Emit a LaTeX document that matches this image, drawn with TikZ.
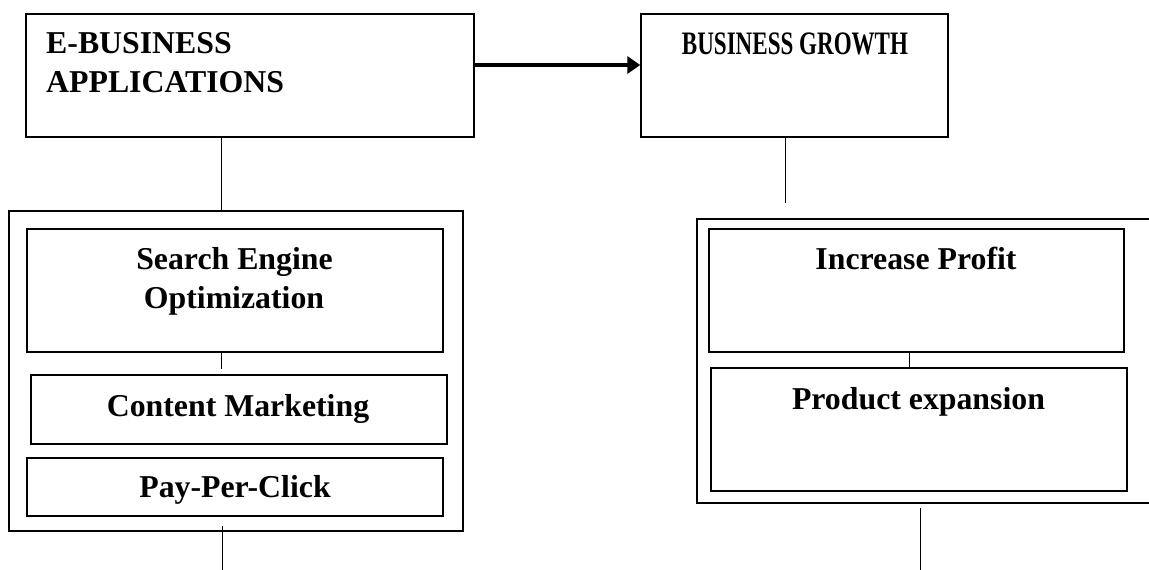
\documentclass[tikz,border=0pt]{standalone}
\usepackage{fontspec}
\setmainfont{Liberation Serif}
\usetikzlibrary{arrows.meta}
\begin{document}
\begin{tikzpicture}[x=1pt,y=-1pt,
  box/.style={draw, line width=1.4pt, inner sep=0pt},
  conn/.style={line width=1pt},
  thickarrow/.style={line width=3.2pt, -{Triangle[length=13pt,width=17pt]}},
  lbl/.style={font=\bfseries\fontsize{31.8}{39}\selectfont, anchor=base, inner sep=0pt}]
\useasboundingbox (0,0) rectangle (1149,570);
\clip (0,0) rectangle (1149,570);
% boxes
\node[box, minimum width=448pt, minimum height=123pt] (eb) at (250,75.5) {};
\node[box, minimum width=307pt, minimum height=123pt] (bg) at (794.5,75.5) {};
\node[box, minimum width=454pt, minimum height=320pt] (louter) at (236,371) {};
\node[box, minimum width=416pt, minimum height=123pt] (seo) at (235,290.5) {};
\node[box, minimum width=416pt, minimum height=69pt] (cm) at (239,409.5) {};
\node[box, minimum width=416pt, minimum height=58pt] (ppc) at (235,487) {};
\node[box, minimum width=503pt, minimum height=284pt] (router) at (948.5,361) {};
\node[box, minimum width=415pt, minimum height=123pt] (ip) at (916.5,290.5) {};
\node[box, minimum width=416pt, minimum height=123pt] (pe) at (919,429.5) {};
% labels
\node[lbl, anchor=base west] (t1) at (46,53) {E-BUSINESS};
\node[lbl, anchor=base west] (t2) at (46,92) {APPLICATIONS};
\node[lbl] (t3) at (795,54) {\scalebox{0.725}[1.03]{BUSINESS GROWTH}};
\node[lbl] (t4) at (234.5,269) {Search Engine};
\node[lbl] (t5) at (234,308) {Optimization};
\node[lbl] (t6) at (238,416) {Content Marketing};
\node[lbl] (t7) at (235,497) {Pay-Per-Click};
\node[lbl] (t8) at (916,269) {Increase Profit};
\node[lbl] (t9) at (918.5,409) {Product expansion};
% helper coordinates
\coordinate (ay) at (0,65);
\coordinate (lx) at (221,0);
\coordinate (rx) at (785,0);
\coordinate (ipx) at (909,0);
\coordinate (seoend) at (221,369);
\coordinate (lb1) at (222,526);
\coordinate (lb2) at (222,575);
\coordinate (rend) at (785,203);
\coordinate (rb1) at (920,508);
\coordinate (rb2) at (920,575);
% connectors
\draw[thickarrow] (eb.east |- ay) -- (bg.west |- ay);
\draw[conn] (eb.south -| lx) -- (louter.north -| lx);
\draw[conn] (seo.south -| lx) -- (seoend);
\draw[conn] (lb1) -- (lb2);
\draw[conn] (bg.south -| rx) -- (rend);
\draw[conn] (ip.south -| ipx) -- (pe.north -| ipx);
\draw[conn] (rb1) -- (rb2);
\end{tikzpicture}
\end{document}
